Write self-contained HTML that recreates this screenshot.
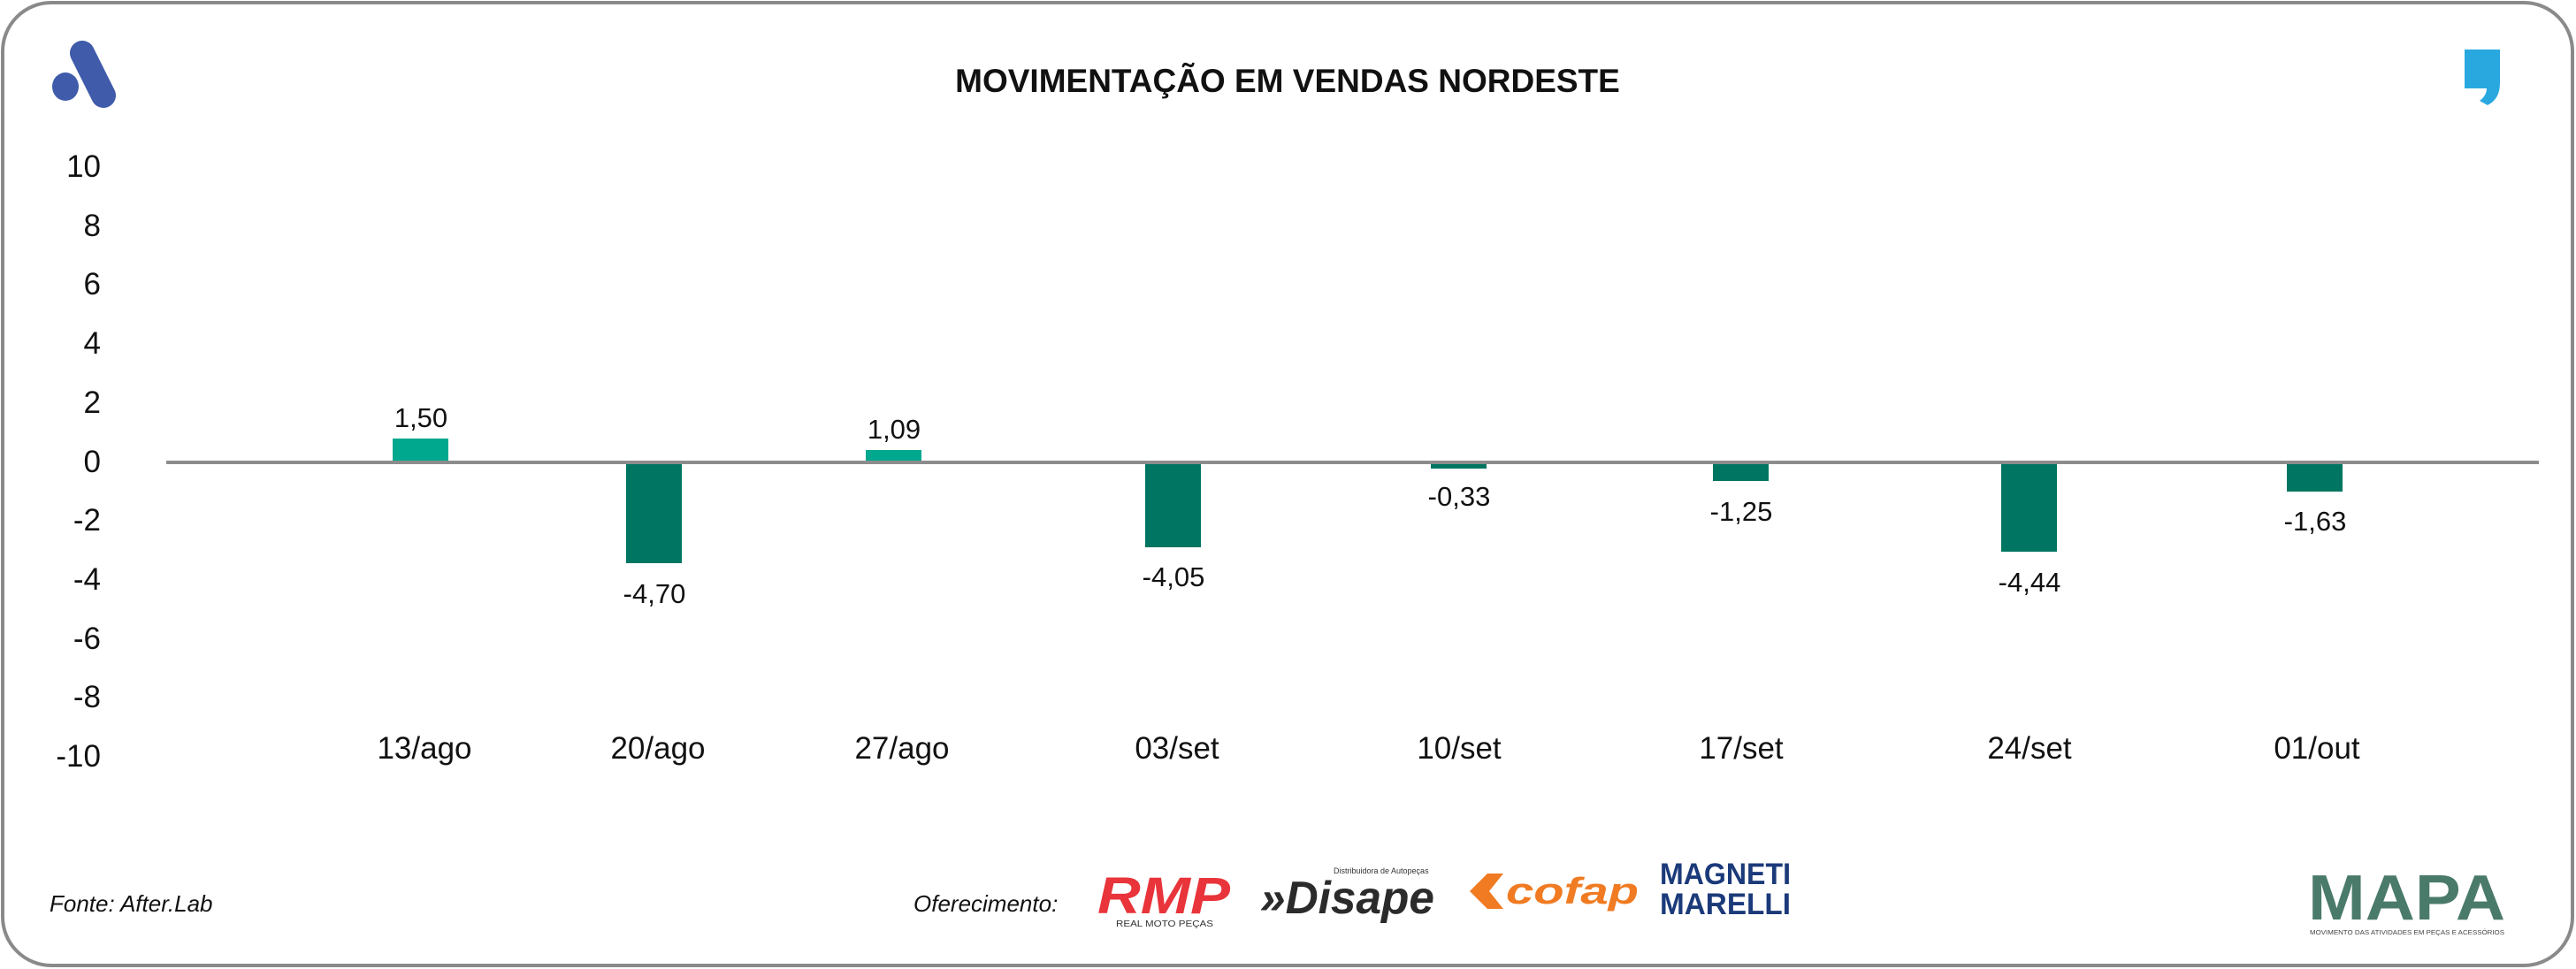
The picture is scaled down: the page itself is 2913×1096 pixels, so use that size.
<!DOCTYPE html>
<html><head><meta charset="utf-8"><style>
html,body{margin:0;padding:0;background:#fff;}
svg{display:block;}
text{font-family:"Liberation Sans",sans-serif;}
</style></head><body>
<svg width="2913" height="1096" viewBox="0 0 2913 1096" xmlns="http://www.w3.org/2000/svg">
<rect x="3" y="3" width="2906" height="1089" rx="55" ry="55" fill="#fff" stroke="#8a8a8a" stroke-width="4"/>
<!-- left logo -->
<g fill="#3f5baa">
<line x1="93" y1="60" x2="117" y2="108" stroke="#3f5baa" stroke-width="28" stroke-linecap="round"/>
<ellipse cx="74" cy="98" rx="15" ry="16"/>
</g>
<!-- right logo -->
<path d="M2787 56 h40 v38 q0 18 -14 25 l-9 -5 q8 -6 8 -14 h-25 z" fill="#29a8e0"/>
<text x="1456" y="104" text-anchor="middle" font-size="37" font-weight="bold" fill="#111">MOVIMENTAÇÃO EM VENDAS NORDESTE</text>
<!-- y labels -->
<g font-size="35" fill="#111" text-anchor="end">
<text x="114" y="200">10</text>
<text x="114" y="267">8</text>
<text x="114" y="333">6</text>
<text x="114" y="400">4</text>
<text x="114" y="467">2</text>
<text x="114" y="534">0</text>
<text x="114" y="600">-2</text>
<text x="114" y="667">-4</text>
<text x="114" y="734">-6</text>
<text x="114" y="800">-8</text>
<text x="114" y="867">-10</text>
</g>
<!-- bars -->
<g>
<rect x="444" y="496" width="63" height="26" fill="#00a88e"/>
<rect x="708" y="524" width="63" height="113" fill="#007561"/>
<rect x="979" y="509" width="63" height="13" fill="#00a88e"/>
<rect x="1295" y="524" width="63" height="95" fill="#007561"/>
<rect x="1618" y="524" width="63" height="6" fill="#007561"/>
<rect x="1937" y="524" width="63" height="20" fill="#007561"/>
<rect x="2263" y="524" width="63" height="100" fill="#007561"/>
<rect x="2586" y="524" width="63" height="32" fill="#007561"/>
</g>
<line x1="188" y1="523" x2="2871" y2="523" stroke="#8c8c8c" stroke-width="4"/>
<g font-size="31" fill="#111" text-anchor="middle">
<text x="476" y="483">1,50</text>
<text x="740" y="682">-4,70</text>
<text x="1011" y="496">1,09</text>
<text x="1327" y="663">-4,05</text>
<text x="1650" y="572">-0,33</text>
<text x="1969" y="589">-1,25</text>
<text x="2295" y="669">-4,44</text>
<text x="2618" y="600">-1,63</text>
</g>
<g font-size="35" fill="#111" text-anchor="middle">
<text x="480" y="858">13/ago</text>
<text x="744" y="858">20/ago</text>
<text x="1020" y="858">27/ago</text>
<text x="1331" y="858">03/set</text>
<text x="1650" y="858">10/set</text>
<text x="1969" y="858">17/set</text>
<text x="2295" y="858">24/set</text>
<text x="2620" y="858">01/out</text>
</g>
<text x="56" y="1031" font-size="26" font-style="italic" fill="#111">Fonte: After.Lab</text>
<text x="1033" y="1031" font-size="26" font-style="italic" fill="#111">Oferecimento:</text>
<!-- sponsor logos -->
<text x="1241" y="1033" font-size="58" font-weight="bold" font-style="italic" fill="#e8343a" textLength="150" lengthAdjust="spacingAndGlyphs">RMP</text>
<text x="1262" y="1048" font-size="10" fill="#333" textLength="110" lengthAdjust="spacingAndGlyphs">REAL MOTO PEÇAS</text>
<text x="1425" y="1033" font-size="52" font-weight="bold" font-style="italic" fill="#2b2b2b" textLength="197" lengthAdjust="spacingAndGlyphs">»Disape</text>
<text x="1508" y="988" font-size="9" fill="#333">Distribuidora de Autopeças</text>
<path d="M1662 1008 l20 -20 h18 l-16 20 16 20 h-18 z" fill="#f07b22"/>
<text x="1703" y="1022" font-size="42" font-weight="bold" font-style="italic" fill="#f07b22" textLength="150" lengthAdjust="spacingAndGlyphs">cofap</text>
<text x="1877" y="1000" font-size="34" font-weight="bold" fill="#1b3a7a" textLength="148" lengthAdjust="spacingAndGlyphs">MAGNETI</text>
<text x="1877" y="1034" font-size="34" font-weight="bold" fill="#1b3a7a" textLength="148" lengthAdjust="spacingAndGlyphs">MARELLI</text>
<text x="2610" y="1040" font-size="72" font-weight="bold" fill="#4a7a6a" textLength="223" lengthAdjust="spacingAndGlyphs">MAPA</text>
<text x="2612" y="1057" font-size="7" fill="#444" textLength="220" lengthAdjust="spacingAndGlyphs">MOVIMENTO DAS ATIVIDADES EM PEÇAS E ACESSÓRIOS</text>
</svg>
</body></html>
